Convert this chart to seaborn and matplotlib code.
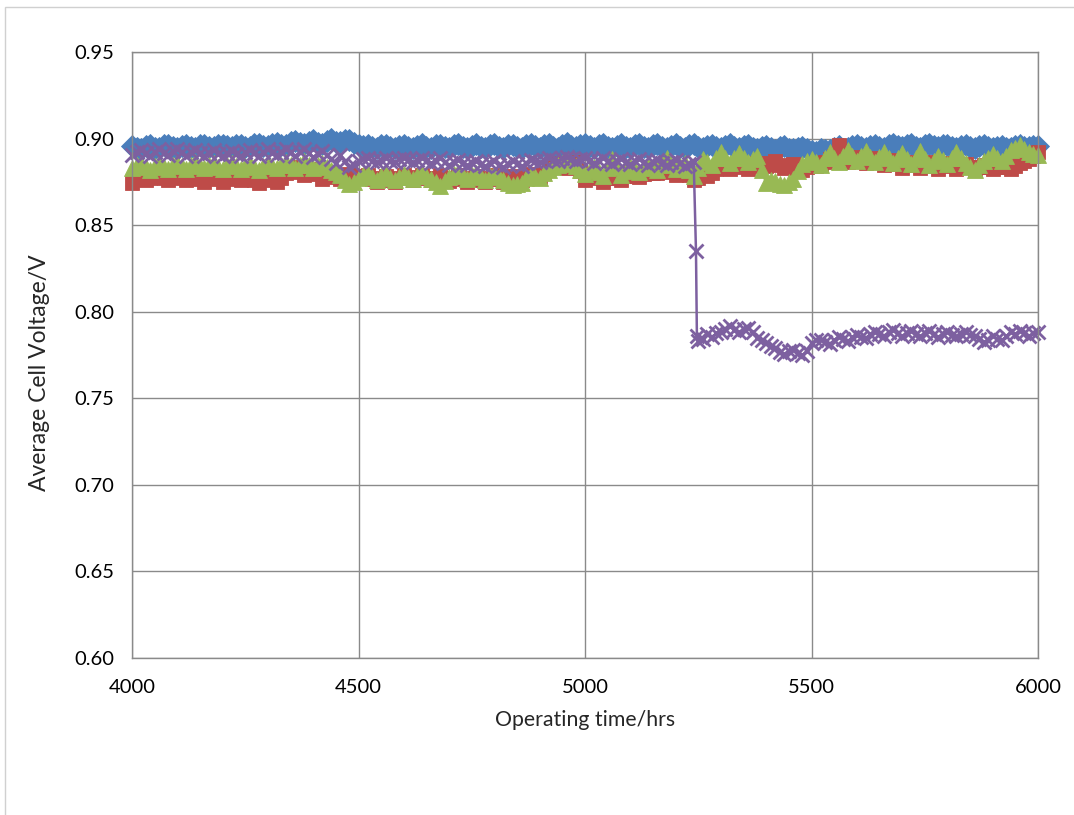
import numpy as np
import pandas as pd
import matplotlib
matplotlib.use("Agg")
import matplotlib.pyplot as plt
from matplotlib.ticker import FormatStrFormatter
from matplotlib.patches import Rectangle
import seaborn as sns

# Logging grid (hours) shared by the three steady stacks: every 10 h
hours = np.arange(4000, 6001, 10)

# Average cell voltage (V), one row per 100 h
stack_a = [
    0.8955, 0.8945, 0.8940, 0.8958, 0.8960, 0.8948, 0.8945, 0.8962, 0.8962, 0.8950,
    0.8946, 0.8958, 0.8963, 0.8950, 0.8948, 0.8964, 0.8962, 0.8951, 0.8950, 0.8960,
    0.8965, 0.8955, 0.8950, 0.8962, 0.8963, 0.8954, 0.8952, 0.8966, 0.8967, 0.8958,
    0.8955, 0.8968, 0.8975, 0.8962, 0.8960, 0.8978, 0.8985, 0.8972, 0.8968, 0.8982,
    0.8990, 0.8976, 0.8970, 0.8988, 0.8995, 0.8982, 0.8978, 0.8992, 0.8990, 0.8975,
    0.8965, 0.8958, 0.8960, 0.8950, 0.8948, 0.8960, 0.8962, 0.8952, 0.8945, 0.8958,
    0.8962, 0.8952, 0.8945, 0.8958, 0.8966, 0.8950, 0.8943, 0.8960, 0.8965, 0.8952,
    0.8945, 0.8960, 0.8968, 0.8952, 0.8944, 0.8958, 0.8966, 0.8950, 0.8946, 0.8962,
    0.8968, 0.8952, 0.8943, 0.8960, 0.8965, 0.8950, 0.8947, 0.8962, 0.8970, 0.8955,
    0.8948, 0.8960, 0.8968, 0.8952, 0.8945, 0.8962, 0.8972, 0.8956, 0.8950, 0.8963,
    0.8970, 0.8955, 0.8946, 0.8960, 0.8968, 0.8952, 0.8944, 0.8958, 0.8966, 0.8951,
    0.8948, 0.8962, 0.8970, 0.8953, 0.8945, 0.8960, 0.8967, 0.8952, 0.8946, 0.8958,
    0.8966, 0.8952, 0.8944, 0.8960, 0.8968, 0.8954, 0.8947, 0.8958, 0.8965, 0.8950,
    0.8945, 0.8958, 0.8967, 0.8950, 0.8943, 0.8955, 0.8962, 0.8948, 0.8940, 0.8952,
    0.8958, 0.8945, 0.8936, 0.8950, 0.8955, 0.8942, 0.8938, 0.8948, 0.8950, 0.8938,
    0.8930, 0.8925, 0.8940, 0.8932, 0.8935, 0.8945, 0.8955, 0.8942, 0.8945, 0.8956,
    0.8962, 0.8952, 0.8946, 0.8958, 0.8965, 0.8953, 0.8948, 0.8960, 0.8968, 0.8955,
    0.8950, 0.8960, 0.8966, 0.8952, 0.8947, 0.8960, 0.8968, 0.8955, 0.8950, 0.8961,
    0.8965, 0.8952, 0.8946, 0.8958, 0.8962, 0.8950, 0.8944, 0.8955, 0.8960, 0.8950,
    0.8945, 0.8953, 0.8958, 0.8948, 0.8943, 0.8955, 0.8962, 0.8952, 0.8950, 0.8956,
    0.8958,
]

stack_b = [
    0.8745, 0.8772, 0.8785, 0.8760, 0.8770, 0.8790, 0.8800, 0.8775, 0.8762, 0.8785,
    0.8795, 0.8770, 0.8760, 0.8782, 0.8790, 0.8765, 0.8752, 0.8778, 0.8790, 0.8768,
    0.8750, 0.8772, 0.8788, 0.8765, 0.8760, 0.8780, 0.8785, 0.8762, 0.8745, 0.8770,
    0.8782, 0.8760, 0.8748, 0.8775, 0.8800, 0.8815, 0.8835, 0.8808, 0.8790, 0.8812,
    0.8825, 0.8795, 0.8768, 0.8785, 0.8800, 0.8780, 0.8766, 0.8782, 0.8795, 0.8775,
    0.8770, 0.8782, 0.8790, 0.8765, 0.8750, 0.8772, 0.8785, 0.8762, 0.8752, 0.8775,
    0.8790, 0.8772, 0.8760, 0.8780, 0.8792, 0.8770, 0.8758, 0.8775, 0.8790, 0.8768,
    0.8755, 0.8772, 0.8788, 0.8765, 0.8750, 0.8770, 0.8785, 0.8762, 0.8752, 0.8772,
    0.8788, 0.8765, 0.8750, 0.8770, 0.8782, 0.8768, 0.8760, 0.8780, 0.8795, 0.8778,
    0.8772, 0.8800, 0.8830, 0.8848, 0.8860, 0.8840, 0.8832, 0.8855, 0.8865, 0.8810,
    0.8762, 0.8780, 0.8795, 0.8770, 0.8750, 0.8772, 0.8790, 0.8775, 0.8762, 0.8782,
    0.8800, 0.8785, 0.8778, 0.8798, 0.8815, 0.8802, 0.8800, 0.8818, 0.8830, 0.8808,
    0.8790, 0.8805, 0.8820, 0.8790, 0.8760, 0.8775, 0.8798, 0.8785, 0.8802, 0.8822,
    0.8840, 0.8830, 0.8822, 0.8840, 0.8855, 0.8838, 0.8825, 0.8842, 0.8860, 0.8848,
    0.8840, 0.8858, 0.8870, 0.8850, 0.8830, 0.8842, 0.8855, 0.8835, 0.8820, 0.8838,
    0.8850, 0.8842, 0.8848, 0.8865, 0.8880, 0.8900, 0.8965, 0.8880, 0.8862, 0.8878,
    0.8895, 0.8875, 0.8860, 0.8878, 0.8890, 0.8868, 0.8850, 0.8862, 0.8875, 0.8855,
    0.8832, 0.8850, 0.8865, 0.8845, 0.8830, 0.8848, 0.8862, 0.8842, 0.8825, 0.8845,
    0.8858, 0.8840, 0.8822, 0.8840, 0.8855, 0.8838, 0.8820, 0.8836, 0.8850, 0.8835,
    0.8822, 0.8838, 0.8852, 0.8836, 0.8825, 0.8842, 0.8860, 0.8870, 0.8880, 0.8900,
    0.8925,
]

stack_c = [
    0.8830, 0.8848, 0.8855, 0.8835, 0.8818, 0.8840, 0.8858, 0.8838, 0.8822, 0.8845,
    0.8860, 0.8840, 0.8825, 0.8848, 0.8862, 0.8842, 0.8828, 0.8846, 0.8858, 0.8838,
    0.8822, 0.8845, 0.8860, 0.8840, 0.8825, 0.8842, 0.8855, 0.8835, 0.8820, 0.8840,
    0.8858, 0.8842, 0.8830, 0.8850, 0.8865, 0.8845, 0.8828, 0.8850, 0.8868, 0.8848,
    0.8832, 0.8850, 0.8860, 0.8838, 0.8820, 0.8805, 0.8790, 0.8762, 0.8735, 0.8752,
    0.8775, 0.8790, 0.8800, 0.8780, 0.8762, 0.8785, 0.8798, 0.8775, 0.8760, 0.8780,
    0.8795, 0.8778, 0.8765, 0.8785, 0.8800, 0.8782, 0.8768, 0.8748, 0.8725, 0.8755,
    0.8780, 0.8795, 0.8805, 0.8785, 0.8765, 0.8788, 0.8802, 0.8780, 0.8760, 0.8782,
    0.8798, 0.8778, 0.8762, 0.8745, 0.8730, 0.8738, 0.8745, 0.8770, 0.8790, 0.8778,
    0.8772, 0.8800, 0.8820, 0.8835, 0.8845, 0.8858, 0.8870, 0.8852, 0.8840, 0.8818,
    0.8795, 0.8818, 0.8835, 0.8808, 0.8782, 0.8830, 0.8880, 0.8835, 0.8790, 0.8815,
    0.8840, 0.8820, 0.8805, 0.8830, 0.8850, 0.8835, 0.8820, 0.8852, 0.8885, 0.8850,
    0.8825, 0.8842, 0.8860, 0.8820, 0.8782, 0.8830, 0.8880, 0.8862, 0.8850, 0.8890,
    0.8925, 0.8885, 0.8858, 0.8888, 0.8915, 0.8885, 0.8862, 0.8880, 0.8900, 0.8820,
    0.8745, 0.8760, 0.8755, 0.8738, 0.8730, 0.8748, 0.8765, 0.8810, 0.8855, 0.8870,
    0.8880, 0.8862, 0.8850, 0.8885, 0.8920, 0.8890, 0.8865, 0.8900, 0.8935, 0.8898,
    0.8870, 0.8900, 0.8930, 0.8895, 0.8862, 0.8892, 0.8925, 0.8888, 0.8858, 0.8885,
    0.8915, 0.8880, 0.8855, 0.8890, 0.8928, 0.8882, 0.8845, 0.8870, 0.8900, 0.8875,
    0.8852, 0.8888, 0.8925, 0.8890, 0.8860, 0.8838, 0.8820, 0.8845, 0.8870, 0.8890,
    0.8910, 0.8885, 0.8868, 0.8900, 0.8935, 0.8945, 0.8960, 0.8940, 0.8925, 0.8912,
    0.8905,
]

# Stack D: steady run, sudden step down near 5245 h, then a lower plateau
d_hours_before = np.arange(4000, 5241, 10)
d_hours_step = [5245, 5247]
d_hours_after = np.arange(5250, 6001, 10)

stack_d_before = [
    0.8905, 0.8925, 0.8935, 0.8915, 0.8900, 0.8920, 0.8938, 0.8918, 0.8905, 0.8928,
    0.8940, 0.8920, 0.8902, 0.8922, 0.8935, 0.8915, 0.8900, 0.8918, 0.8932, 0.8912,
    0.8898, 0.8915, 0.8930, 0.8912, 0.8900, 0.8920, 0.8935, 0.8915, 0.8902, 0.8922,
    0.8938, 0.8918, 0.8905, 0.8925, 0.8942, 0.8920, 0.8900, 0.8922, 0.8940, 0.8915,
    0.8895, 0.8912, 0.8930, 0.8905, 0.8880, 0.8860, 0.8905, 0.8870, 0.8835, 0.8850,
    0.8870, 0.8880, 0.8885, 0.8870, 0.8862, 0.8878, 0.8888, 0.8872, 0.8865, 0.8880,
    0.8890, 0.8875, 0.8862, 0.8875, 0.8885, 0.8870, 0.8860, 0.8872, 0.8885, 0.8865,
    0.8850, 0.8862, 0.8875, 0.8858, 0.8845, 0.8860, 0.8872, 0.8855, 0.8842, 0.8858,
    0.8870, 0.8850, 0.8835, 0.8852, 0.8868, 0.8852, 0.8840, 0.8858, 0.8875, 0.8868,
    0.8862, 0.8878, 0.8890, 0.8878, 0.8870, 0.8885, 0.8895, 0.8882, 0.8872, 0.8882,
    0.8890, 0.8875, 0.8860, 0.8872, 0.8885, 0.8868, 0.8855, 0.8870, 0.8882, 0.8865,
    0.8852, 0.8868, 0.8880, 0.8862, 0.8850, 0.8865, 0.8878, 0.8860, 0.8848, 0.8862,
    0.8875, 0.8858, 0.8842, 0.8855, 0.8862,
]
stack_d_step = [0.8350, 0.7860]
stack_d_after = [
    0.7830, 0.7845, 0.7870, 0.7855, 0.7875,
    0.7885, 0.7900, 0.7915, 0.7895, 0.7880, 0.7900, 0.7905, 0.7885, 0.7850, 0.7835,
    0.7820, 0.7800, 0.7790, 0.7768, 0.7755, 0.7772, 0.7780, 0.7760, 0.7750, 0.7775,
    0.7820, 0.7835, 0.7838, 0.7825, 0.7815, 0.7835, 0.7855, 0.7840, 0.7830, 0.7852,
    0.7868, 0.7855, 0.7850, 0.7870, 0.7885, 0.7870, 0.7862, 0.7880, 0.7892, 0.7875,
    0.7860, 0.7878, 0.7890, 0.7872, 0.7858, 0.7875, 0.7888, 0.7870, 0.7855, 0.7872,
    0.7885, 0.7868, 0.7858, 0.7872, 0.7882, 0.7868, 0.7860, 0.7845, 0.7825, 0.7838,
    0.7860, 0.7842, 0.7835, 0.7858, 0.7885, 0.7872, 0.7890, 0.7875, 0.7860, 0.7878,
    0.7880,
]

x_ticks = [4000, 4500, 5000, 5500, 6000]
y_ticks = [0.60, 0.65, 0.70, 0.75, 0.80, 0.85, 0.90, 0.95]

sns.set_style("white")
plt.rcParams["font.family"] = ["Lato", "DejaVu Sans"]

W, H = 1074, 815
fig = plt.figure(figsize=(W / 100, H / 100), dpi=100)
fig.patch.set_facecolor("white")

# Light chart-area frame
fig.patches.append(Rectangle((5 / W, -0.05), 1.1, 1 - 7 / H + 0.05,
                             transform=fig.transFigure, fill=False,
                             edgecolor="#d0d0d0", lw=1.0))

ax = fig.add_axes([132 / W, 1 - 658 / H, (1038 - 132) / W, (658 - 52) / H])

d_hours = np.concatenate([d_hours_before, d_hours_step, d_hours_after])
stack_d = stack_d_before + stack_d_step + stack_d_after

# (x, y, colour, marker, marker size, edge width, line width)
series = [
    (hours, stack_a, "#4A7EBB", "D", 11.0, 0.6, 2.0),
    (hours, stack_b, "#BE4B48", "s", 9.5, 0.6, 2.0),
    (hours, stack_c, "#98B954", "^", 12.0, 0.6, 2.0),
    (d_hours, stack_d, "#7D60A0", "x", 10.5, 2.0, 1.8),
]

for xs, ys, col, mk, ms, mew, lw in series:
    df = pd.DataFrame({"h": xs, "v": ys})
    sns.lineplot(data=df, x="h", y="v", ax=ax, color=col, lw=lw,
                 marker=mk, markersize=ms, sort=False, estimator=None,
                 markeredgecolor=col, markeredgewidth=mew)
for ln in ax.get_lines():
    ln.set_clip_on(False)

grid_col = "#8a8a8a"
ax.set_xlim(4000, 6000)
ax.set_ylim(0.60, 0.95)
ax.set_xticks(x_ticks)
ax.set_yticks(y_ticks)
ax.yaxis.set_major_formatter(FormatStrFormatter("%.2f"))
ax.grid(True, color=grid_col, lw=1.0)
ax.set_axisbelow(True)
for sp in ax.spines.values():
    sp.set_color(grid_col)
    sp.set_linewidth(1.0)
ax.tick_params(axis="both", direction="out", length=6, width=1.0,
               color=grid_col, labelsize=14.5, labelcolor="black")
ax.tick_params(axis="y", pad=7)
ax.tick_params(axis="x", pad=9)

ax.set_xlabel("Operating time/hrs", fontsize=15.3)
ax.set_ylabel("Average Cell Voltage/V", fontsize=16.5)
ax.xaxis.set_label_coords(0.5, -(720 - 658) / (658 - 52), transform=ax.transAxes)
ax.yaxis.set_label_coords(-(132 - 40) / (1038 - 132), (658 - 373) / (658 - 52),
                          transform=ax.transAxes)
ax.xaxis.label.set_va("center")
ax.yaxis.label.set_va("center")

fig.savefig("out.png", dpi=100, facecolor="white")
